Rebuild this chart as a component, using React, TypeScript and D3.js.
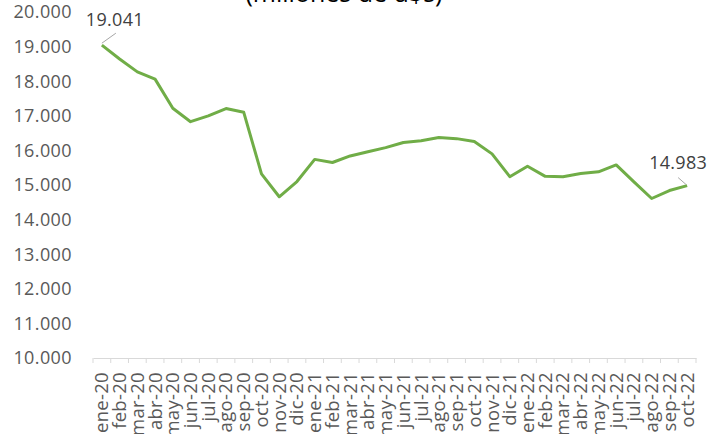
import React, { useRef, useEffect } from 'react';
import * as d3 from 'd3';

const months = [
  'ene-20', 'feb-20', 'mar-20', 'abr-20', 'may-20', 'jun-20', 'jul-20', 'ago-20', 'sep-20', 'oct-20', 'nov-20', 'dic-20',
  'ene-21', 'feb-21', 'mar-21', 'abr-21', 'may-21', 'jun-21', 'jul-21', 'ago-21', 'sep-21', 'oct-21', 'nov-21', 'dic-21',
  'ene-22', 'feb-22', 'mar-22', 'abr-22', 'may-22', 'jun-22', 'jul-22', 'ago-22', 'sep-22', 'oct-22',
];

const values = [
  19041, 18640, 18270, 18060, 17220, 16830, 17000, 17210, 17100, 15320, 14660, 15100,
  15740, 15650, 15840, 15960, 16080, 16230, 16280, 16370, 16340, 16260, 15900, 15240,
  15540, 15250, 15240, 15330, 15380, 15580, 15090, 14610, 14840, 14983,
];

const yTicks = [10000, 11000, 12000, 13000, 14000, 15000, 16000, 17000, 18000, 19000, 20000];

const fmt = (v: number) => d3.format(',.0f')(v).replace(/,/g, '.');

const App = () => {
  const ref = useRef<SVGSVGElement | null>(null);

  useEffect(() => {
    const svg = d3.select(ref.current);
    svg.selectAll('*').remove();

    const font = "'Open Sans', sans-serif";
    const x = d3.scaleBand().domain(months).range([93, 696]);
    const y = d3.scaleLinear().domain([10000, 20000]).range([358, 12]);
    const cx = (m: string) => (x(m) as number) + x.bandwidth() / 2;

    // título (cortado arriba)
    svg.append('text')
      .attr('x', 344)
      .attr('y', 2)
      .attr('text-anchor', 'middle')
      .style('font-family', font)
      .style('font-size', '25px')
      .style('fill', '#000')
      .text('(millones de u$s)');

    // eje Y (solo etiquetas)
    svg.append('g')
      .selectAll('text')
      .data(yTicks)
      .enter()
      .append('text')
      .attr('x', 72)
      .attr('y', d => y(d))
      .attr('dy', '0.35em')
      .attr('text-anchor', 'end')
      .style('font-family', font)
      .style('font-size', '18px')
      .style('letter-spacing', '0.4px')
      .style('fill', '#595959')
      .text(d => fmt(d));

    // eje X
    const xAxis = svg.append('g')
      .attr('transform', `translate(0,${y(10000)})`)
      .call(d3.axisBottom(x).tickSize(0).tickFormat(() => ''));
    xAxis.select('.domain').attr('stroke', '#d9d9d9').attr('stroke-width', 1);

    const bounds = months.map(m => x(m) as number).concat([x.range()[1]]);
    svg.append('g')
      .selectAll('line')
      .data(bounds)
      .enter()
      .append('line')
      .attr('x1', d => d)
      .attr('x2', d => d)
      .attr('y1', y(10000))
      .attr('y2', y(10000) + 5)
      .attr('stroke', '#d9d9d9');

    svg.append('g')
      .selectAll('text')
      .data(months)
      .enter()
      .append('text')
      .attr('transform', d => `translate(${cx(d)},${y(10000) + 14}) rotate(-90)`)
      .attr('dy', '0.35em')
      .attr('text-anchor', 'end')
      .style('font-family', font)
      .style('font-size', '18.5px')
      .style('letter-spacing', '0.3px')
      .style('fill', '#595959')
      .text(d => d);

    // línea
    const line = d3.line<number>()
      .x((_, i) => cx(months[i]))
      .y(d => y(d));

    svg.append('path')
      .datum(values)
      .attr('d', line)
      .attr('fill', 'none')
      .attr('stroke', '#70ad47')
      .attr('stroke-width', 3)
      .attr('stroke-linejoin', 'round');

    // etiquetas de datos
    const first = 0;
    const last = values.length - 1;
    const fx = cx(months[first]);
    const fy = y(values[first]);
    svg.append('line')
      .attr('x1', fx).attr('y1', fy - 2)
      .attr('x2', fx + 14).attr('y2', fy - 12)
      .attr('stroke', '#a6a6a6');
    svg.append('text')
      .attr('x', fx - 16)
      .attr('y', fy - 19)
      .style('font-family', font)
      .style('font-size', '18px')
      .style('letter-spacing', '0.3px')
      .style('fill', '#404040')
      .text(fmt(values[first]));

    const lx = cx(months[last]);
    const ly = y(values[last]);
    svg.append('line')
      .attr('x1', lx - 1).attr('y1', ly - 1)
      .attr('x2', lx - 9).attr('y2', ly - 8)
      .attr('stroke', '#a6a6a6');
    svg.append('text')
      .attr('x', lx + 20)
      .attr('y', ly - 17)
      .attr('text-anchor', 'end')
      .style('font-family', font)
      .style('font-size', '18px')
      .style('letter-spacing', '0.3px')
      .style('fill', '#404040')
      .text(fmt(values[last]));
  }, []);

  return (
    <svg
      ref={ref}
      width={711}
      height={434}
      style={{ position: 'absolute', left: 0, top: 0, background: '#fff' }}
    />
  );
};

export default App;
